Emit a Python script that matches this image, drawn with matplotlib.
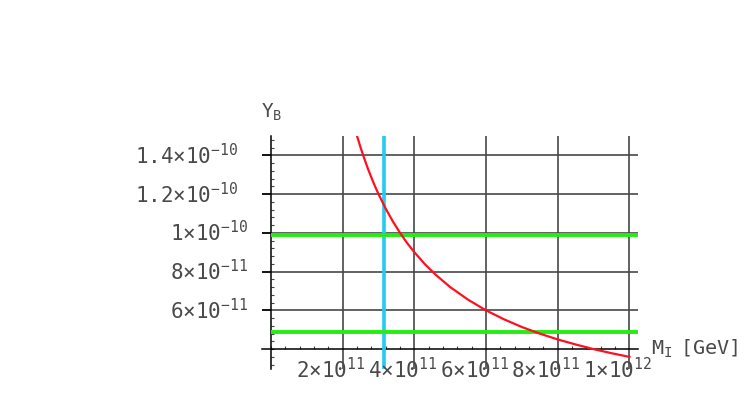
import matplotlib
matplotlib.use("Agg")
import matplotlib.pyplot as plt
from matplotlib.ticker import MultipleLocator

plt.rcParams['mathtext.fontset'] = 'custom'
plt.rcParams['mathtext.rm'] = 'DejaVu Sans Mono'
plt.rcParams['mathtext.it'] = 'DejaVu Sans Mono'
plt.rcParams['mathtext.bf'] = 'DejaVu Sans Mono'
plt.rcParams['font.family'] = ['DejaVu Sans Mono', 'DejaVu Sans']

# Y_B versus M_I
m_i = [2.3e11, 2.4e11, 2.5e11, 2.6e11, 2.7e11, 2.8e11, 2.9e11, 3.0e11, 3.2e11, 3.4e11,
       3.6e11, 3.8e11, 4.0e11, 4.3e11, 4.6e11, 5.0e11, 5.5e11, 6.0e11, 6.5e11, 7.0e11,
       7.5e11, 8.0e11, 8.5e11, 9.0e11, 9.5e11, 1.0e12]
y_b = [15.65e-11, 15.0e-11, 14.4e-11, 13.85e-11, 13.33e-11, 12.86e-11, 12.41e-11, 12.0e-11,
       11.25e-11, 10.59e-11, 10.0e-11, 9.47e-11, 9.0e-11, 8.37e-11, 7.83e-11, 7.2e-11,
       6.55e-11, 6.0e-11, 5.54e-11, 5.14e-11, 4.8e-11, 4.5e-11, 4.24e-11, 4.0e-11,
       3.79e-11, 3.6e-11]

y_band = [9.87e-11, 4.88e-11]   # green horizontal lines
m_mark = 3.14e11                # cyan vertical line

x_ticks = [2e11, 4e11, 6e11, 8e11, 1e12]
x_labels = [r'$2{\times}10^{11}$', r'$4{\times}10^{11}$', r'$6{\times}10^{11}$',
            r'$8{\times}10^{11}$', r'$1{\times}10^{12}$']
y_ticks = [6e-11, 8e-11, 1e-10, 1.2e-10, 1.4e-10]
y_labels = [r'$6{\times}10^{-11}$', r'$8{\times}10^{-11}$', r'$1{\times}10^{-10}$',
            r'$1.2{\times}10^{-10}$', r'$1.4{\times}10^{-10}$']

x_min, x_max = -0.0251e12, 1.0226e12
y_min, y_max = 3e-11, 1.5e-10
y_axis_at = 4e-11

fig = plt.figure(figsize=(7.48, 3.94), dpi=100)
ax = fig.add_axes([0.3503, 0.0647, 0.502, 0.5901])
ax.set_xlim(x_min, x_max)
ax.set_ylim(y_min, y_max)

grid_col = '#484848'
for xv in x_ticks:
    ax.axvline(xv, color=grid_col, lw=1.2, zorder=1)
for yv in y_ticks:
    ax.axhline(yv, color=grid_col, lw=1.2, zorder=1)

ax.spines['top'].set_visible(False)
ax.spines['right'].set_visible(False)
ax.spines['left'].set_position(('data', 0))
ax.spines['bottom'].set_position(('data', y_axis_at))
for s in ('left', 'bottom'):
    ax.spines[s].set_color('black')
    ax.spines[s].set_linewidth(1.1)
    ax.spines[s].set_zorder(2)

ax.set_xticks(x_ticks)
ax.set_yticks(y_ticks)
ax.xaxis.set_minor_locator(MultipleLocator(0.4e11))
ax.yaxis.set_minor_locator(MultipleLocator(0.4e-11))
ax.tick_params(axis='x', which='major', length=0, labelbottom=False)
ax.tick_params(axis='x', which='minor', direction='in', length=2.5, width=0.8, color='#444444')
ax.tick_params(axis='y', which='major', direction='out', length=6.5, width=1.1, labelleft=False)
ax.tick_params(axis='y', which='minor', direction='in', length=2.5, width=0.8, color='#444444')

ax.axvline(m_mark, color='#22ccf0', lw=2.6, zorder=3)
for yv in y_band:
    ax.hlines(yv, 0, x_max, color='#22ee11', lw=2.8, zorder=3)
ax.plot(m_i, y_b, color='#ff1020', lw=1.6, zorder=4, clip_on=True)

txt_col = '#4a4a4a'
for xv, lab in zip(x_ticks, x_labels):
    ax.annotate(lab, xy=(xv, y_axis_at), xytext=(-8.5, -5.5), textcoords='offset points',
                ha='center', va='top', fontsize=15, color=txt_col, annotation_clip=False)
for yv, lab in zip(y_ticks, y_labels):
    # labels with a decimal point sit further left, as in the original
    dx = -23.8 if '.' in lab else -16.6
    ax.annotate(lab, xy=(0, yv), xytext=(dx, 0), textcoords='offset points',
                ha='right', va='center', fontsize=15, color=txt_col, annotation_clip=False)

ax.annotate(r'$\mathrm{M_I\ \ [GeV]}$', xy=(1, y_axis_at), xycoords=('axes fraction', 'data'),
            xytext=(10, -4.3), textcoords='offset points', ha='left', va='baseline',
            fontsize=14.5, color=txt_col, annotation_clip=False)
ax.annotate(r'$\mathrm{Y_B}$', xy=(0, 1), xycoords='axes fraction',
            xytext=(-1, 13), textcoords='offset points', ha='left', va='baseline',
            fontsize=14, color=txt_col, annotation_clip=False)

fig.savefig('out.png', dpi=100)
